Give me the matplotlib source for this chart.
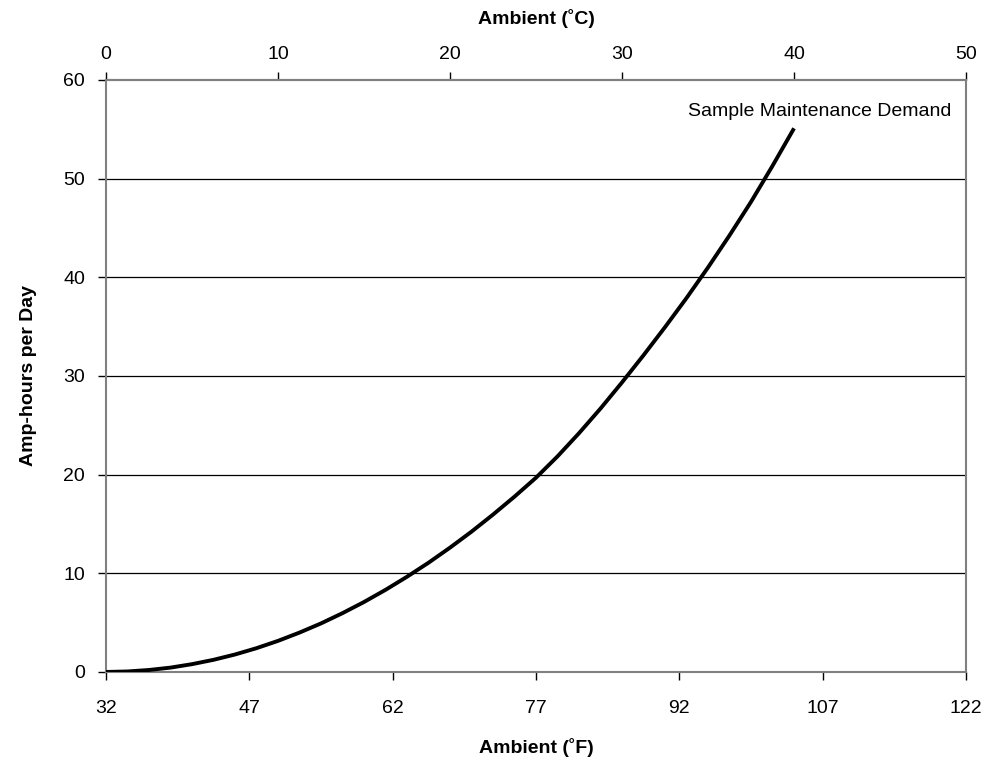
import matplotlib.pyplot as plt
import numpy as np

plt.rcParams['font.family'] = ['Liberation Sans', 'DejaVu Sans']

# ambient temperature (C) and maintenance demand (Ah/day)
temp_c = [0, 1.25, 2.5, 3.75, 5, 6.25, 7.5, 8.75, 10, 11.25, 12.5, 13.75, 15, 16.25,
          17.5, 18.75, 20, 21.25, 22.5, 23.75, 25, 26.25, 27.5, 28.75, 30, 31.25,
          32.5, 33.75, 35, 36.25, 37.5, 38.75, 40]
amp_hours = [0, 0.05, 0.2, 0.44, 0.79, 1.23, 1.77, 2.41, 3.15, 3.99, 4.92, 5.96, 7.09, 8.32,
             9.65, 11.07, 12.6, 14.22, 15.95, 17.77, 19.69, 21.85, 24.2, 26.7, 29.35, 32.1,
             34.95, 37.9, 41.0, 44.25, 47.65, 51.3, 55.1]

f_ticks = [32, 47, 62, 77, 92, 107, 122]
c_ticks = [0, 10, 20, 30, 40, 50]
y_ticks = [0, 10, 20, 30, 40, 50, 60]


def c2f(c):
    return np.asarray(c) * 1.8 + 32


def f2c(f):
    return (np.asarray(f) - 32) / 1.8


def main():
    fig = plt.figure(figsize=(9.95, 7.61), dpi=100)
    ax = fig.add_axes([0.1065, 0.117, 0.8644, 0.7779])

    temp_f = c2f(temp_c)
    ax.plot(temp_f, amp_hours, color='black', lw=2.8, solid_joinstyle='round',
            solid_capstyle='butt', zorder=3)

    ax.set_xlim(32, 122)
    ax.set_ylim(0, 60)
    ax.set_xticks(f_ticks)
    ax.set_yticks(y_ticks)
    for y in y_ticks[1:-1]:
        ax.axhline(y, color='black', lw=0.9, zorder=1)

    for s in ax.spines.values():
        s.set_color('#808080')
        s.set_linewidth(1.5)

    ax.tick_params(axis='x', direction='out', length=6, width=1, colors='black',
                   labelsize=14, pad=14)
    ax.tick_params(axis='y', direction='out', length=6, width=1, colors='black',
                   labelsize=14, pad=9)

    sec = ax.secondary_xaxis('top', functions=(f2c, c2f))
    sec.set_xticks(c_ticks)
    sec.tick_params(direction='out', length=6, width=1, colors='black',
                    labelsize=14, pad=6)
    sec.spines['top'].set_color('#808080')
    sec.spines['top'].set_linewidth(1.5)
    sec.set_xlabel('Ambient (˚C)', fontsize=14, fontweight='bold', labelpad=16)

    ax.set_xlabel('Ambient (˚F)', fontsize=14, fontweight='bold', labelpad=15)
    ax.set_ylabel('Amp-hours per Day', fontsize=14, fontweight='bold', labelpad=19)

    ax.text(120.5, 56.8, 'Sample Maintenance Demand', fontsize=14,
            ha='right', va='center')

    fig.savefig('out.png', dpi=100)
    plt.close(fig)


if __name__ == "__main__":
    main()
